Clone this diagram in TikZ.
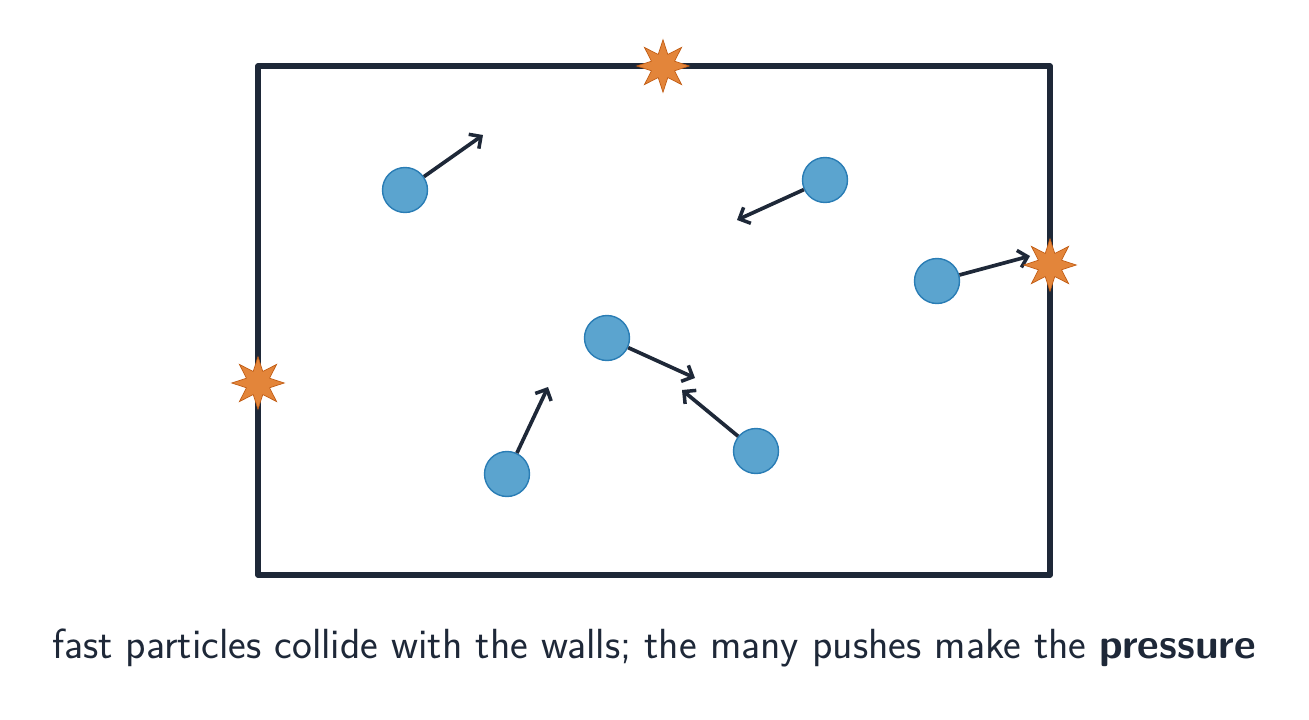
\documentclass[tikz,border=0pt]{standalone}
\usepackage{tikz}
\usetikzlibrary{positioning,shapes.geometric,arrows.meta}
\definecolor{ink}{HTML}{1E2838}
\definecolor{ball}{HTML}{5BA4CF}
\definecolor{balledge}{HTML}{2A7DB5}
\definecolor{hit}{HTML}{E3853A}
\definecolor{hitedge}{HTML}{C25E16}
\tikzset{
  particle/.style={circle,fill=ball,draw=balledge,thick,minimum size=0.9cm,inner sep=0pt},
  bang/.style={star,star points=8,star point ratio=2.1,fill=hit,draw=hitedge,
    minimum size=1.05cm,inner sep=0pt},
  push/.style={-{Straight Barb[length=5pt,width=10pt,line width=2pt]},ink,line width=2.1pt},
}
\begin{document}
\begin{tikzpicture}[x=0.02cm,y=-0.02cm]
\useasboundingbox (0,0) rectangle (1309,720);
% container walls
\draw[ink,line width=3pt,line join=round] (258,66) rectangle (1050,575);
% particles
\node[particle] (p1) at (405,190) {};
\node[particle] (p2) at (825,180) {};
\node[particle] (p3) at (937,281) {};
\node[particle] (p4) at (607,338) {};
\node[particle] (p5) at (507,474) {};
\node[particle] (p6) at (756,451) {};
% arrow tips
\coordinate (t1) at (483,135);
\coordinate (t2) at (737,220);
\coordinate (t3) at (1030,256);
\coordinate (t4) at (695,378);
\coordinate (t5) at (548,387);
\coordinate (t6) at (682,390);
\foreach \i in {1,...,6}
  \draw[push] (p\i) -- (t\i);
% collisions with the walls
\node[bang] (c1) at (663,66) {};
\node[bang] (c2) at (1050,265) {};
\node[bang] (c3) at (258,383) {};
% caption
\node[text=ink,font=\sffamily\fontsize{24}{28}\selectfont] (cap) at (654,648)
  {fast particles collide with the walls; the many pushes make the \textbf{pressure}};
\end{tikzpicture}
\end{document}
